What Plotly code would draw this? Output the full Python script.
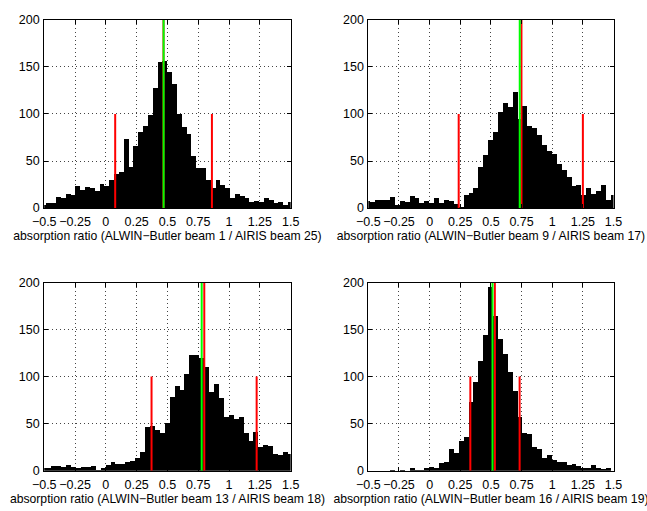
import numpy as np
import plotly.graph_objects as go

# ---------------- data ----------------
x_min, x_max = -0.5, 1.5
x_tick_vals = [-0.5, -0.25, 0, 0.25, 0.5, 0.75, 1, 1.25, 1.5]
x_tick_text = ["−0.5", "−0.25", "0", "0.25", "0.5", "0.75", "1", "1.25", "1.5"]
y_tick_vals = [0, 50, 100, 150, 200]
y_max = 200

# histogram counts per panel (bins spread evenly over -0.5 .. 1.5)
counts_b1_a25 = [3, 5, 5, 12, 11, 15, 14, 23, 19, 22, 21, 18, 26, 24, 30, 36, 38, 73, 44, 66,
                 81, 87, 99, 128, 155, 156, 145, 132, 100, 86, 79, 55, 43, 43, 30, 21, 30, 25,
                 21, 11, 15, 13, 11, 6, 8, 6, 11, 9, 5, 7, 3, 6]
counts_b9_a17 = [8, 6, 9, 9, 9, 12, 3, 8, 7, 13, 11, 5, 8, 5, 11, 5, 9, 8, 4, 1, 14, 16, 21, 44,
                 56, 72, 81, 102, 112, 108, 123, 95, 109, 87, 85, 78, 67, 61, 58, 47, 40, 33, 23,
                 25, 14, 21, 15, 18, 25, 9, 14]
counts_b13_a18 = [3, 3.5, 5.5, 5.5, 4.5, 6.5, 4, 3, 4, 4, 5.5, 1, 3.5, 6, 10, 8, 8, 10, 11, 14,
                  20, 47, 48, 44, 41, 51, 79, 90, 86, 103, 123, 123, 120, 111, 84, 93, 78, 58, 60,
                  55, 57, 40, 32, 42, 26, 28, 27, 18, 17, 20, 18]
counts_b16_a19 = [0, 0, 0, 0, 0, 1, 0, 1, 0, 3, 1, 1, 3, 4, 3, 9, 10, 23, 19, 32, 36, 74, 95,
                  117, 145, 196, 165, 140, 125, 105, 85, 58, 40, 39, 26, 24, 14, 17, 12, 10, 10,
                  7, 8, 5, 3, 3, 6, 3, 2, 3, 0]

panel_counts = [counts_b1_a25, counts_b9_a17, counts_b13_a18, counts_b16_a19]
panel_labels = [
    "absorption ratio (ALWIN−Butler beam 1 / AIRIS beam 25)",
    "absorption ratio (ALWIN−Butler beam 9 / AIRIS beam 17)",
    "absorption ratio (ALWIN−Butler beam 13 / AIRIS beam 18)",
    "absorption ratio (ALWIN−Butler beam 16 / AIRIS beam 19)",
]
red_low = [0.076, 0.237, 0.371, 0.332]
red_mid = [0.468, 0.749, 0.799, 0.532]
red_high = [0.861, 1.250, 1.224, 0.734]
green_val = [0.469, 0.735, 0.778, 0.513]
side_line_height = 100
mid_line_height = 200

# ---------------- layout ----------------
W, H = 647, 511
col_px = [(33.3, 288.0), (368.3, 621.7)]
row_px = [(13.3, 206.7), (283.3, 476.7)]
font_family = "Liberation Sans, Arial, Helvetica, sans-serif"

fig = go.Figure()

for i, counts in enumerate(panel_counts):
    r, c = divmod(i, 2)
    ax = "" if i == 0 else str(i + 1)
    n = len(counts)
    centers = np.linspace(x_min, x_max, n)
    width = (x_max - x_min) / (n - 1)
    fig.add_trace(go.Bar(x=centers, y=counts, width=width,
                         marker=dict(color="black", line=dict(width=0)),
                         xaxis="x" + ax, yaxis="y" + ax, hoverinfo="skip"))
    # red marker lines
    fig.add_trace(go.Scatter(
        x=[red_low[i], red_low[i], None, red_high[i], red_high[i], None, red_mid[i], red_mid[i]],
        y=[0, side_line_height, None, 0, side_line_height, None, 0, mid_line_height],
        mode="lines", line=dict(color="#ff0000", width=2),
        xaxis="x" + ax, yaxis="y" + ax, hoverinfo="skip"))
    # green line
    fig.add_trace(go.Scatter(
        x=[green_val[i], green_val[i]], y=[0, mid_line_height],
        mode="lines", line=dict(color="#00ff00", width=2),
        xaxis="x" + ax, yaxis="y" + ax, hoverinfo="skip"))

    x0, x1 = col_px[c]
    y0, y1 = row_px[r]
    common = dict(showline=True, linecolor="black", linewidth=1, mirror="ticks",
                  ticks="inside", ticklen=4, tickcolor="black", tickwidth=1,
                  showgrid=True, gridcolor="#444444", gridwidth=1, griddash="1px,3px",
                  zeroline=False, tickangle=0,
                  tickfont=dict(family=font_family, size=12.5, color="black"))
    fig.update_layout(**{
        "xaxis" + ax: dict(domain=[x0 / W, x1 / W], range=[x_min, x_max],
                           tickvals=x_tick_vals, ticktext=x_tick_text,
                           anchor="y" + ax, ticklabelstandoff=2,
                           title=dict(text=panel_labels[i], standoff=1,
                                      font=dict(family=font_family, size=12.2, color="black")),
                           **common),
        "yaxis" + ax: dict(domain=[1 - y1 / H, 1 - y0 / H], range=[0, y_max],
                           tickvals=y_tick_vals, anchor="x" + ax, ticklabelstandoff=1,
                           **common),
    })

fig.update_layout(width=W, height=H, margin=dict(l=0, r=0, t=0, b=0),
                  paper_bgcolor="white", plot_bgcolor="white",
                  showlegend=False, bargap=0)

fig.write_html("out.html", config={"displayModeBar": False},
               post_script="document.body.style.margin='0';document.body.style.overflow='hidden';")
